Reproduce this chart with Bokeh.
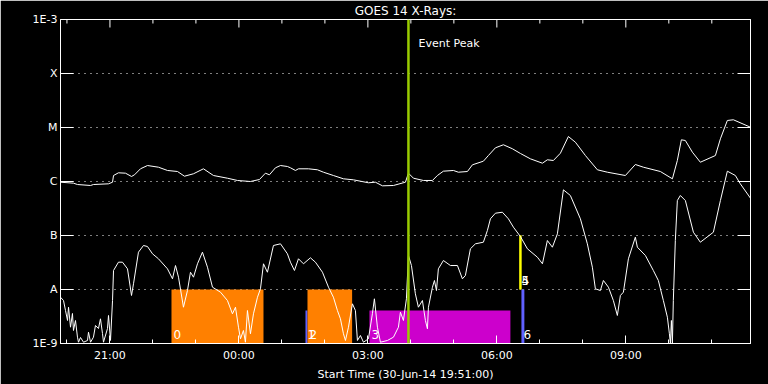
import numpy as np
from bokeh.plotting import figure
from bokeh.models import Range1d, FixedTicker, LinearAxis, Label, ColumnDataSource, Span
from bokeh.embed import file_html
from bokeh.resources import INLINE
from bokeh.core.properties import value

# minutes since start (30-Jun-14 19:51:00); flux as log10(W/m^2)
long_t = [0, 18.1, 23.7, 41.9, 46.0, 67.0, 72.6, 74.0, 80.9, 90.7,
          99.1, 103.3, 111.6, 121.4, 136.7, 149.3, 163.3, 173.0, 185.6, 199.5,
          213.5, 233.0, 247.0, 265.1, 277.7, 286.0, 291.6, 300.0, 307.0, 316.7,
          320.9, 327.9, 332.1, 346.0, 358.6, 367.0, 380.9, 394.9, 408.8, 429.8,
          439.5, 449.3, 464.7, 481.4, 485.6, 492.6, 506.5, 519.1, 526.0, 534.4,
          548.4, 555.3, 567.9, 574.9, 590.2, 597.2, 607.0, 618.1, 630.7, 641.9,
          655.8, 672.6, 679.5, 687.9, 697.7, 708.8, 718.6, 732.6, 749.3, 763.3,
          788.4, 802.3, 813.5, 837.2, 854.0, 860.9, 866.5, 872.1, 881.9, 893.0,
          914.0, 921.0, 930.7, 939.1, 962.8]
long_log = [-6.013, -6.031, -6.056, -6.074, -6.056, -6.043, -6.013, -5.889, -5.839, -5.846,
            -5.907, -5.876, -5.765, -5.704, -5.735, -5.796, -5.815, -5.902, -5.857, -5.765,
            -5.889, -5.939, -5.981, -6.0, -5.963, -5.846, -5.876, -5.746, -5.704, -5.722,
            -5.746, -5.796, -5.765, -5.765, -5.783, -5.828, -5.889, -5.950, -5.969, -6.024,
            -6.013, -6.080, -6.074, -6.013, -5.846, -5.939, -5.981, -5.981, -5.889, -5.809,
            -5.796, -5.828, -5.815, -5.691, -5.624, -5.519, -5.376, -5.320, -5.394, -5.481,
            -5.580, -5.661, -5.598, -5.611, -5.476, -5.167, -5.272, -5.519, -5.783, -5.828,
            -5.889, -5.685, -5.735, -5.815, -5.950, -5.611, -5.228, -5.241, -5.457, -5.643,
            -5.519, -5.209, -4.870, -4.857, -4.994]

short_t = [0, 4.2, 7.0, 9.8, 11.2, 14.0, 16.7, 18.1, 20.9, 23.7,
           25.1, 27.9, 32.1, 37.7, 39.1, 41.9, 46.0, 48.8, 53.0, 55.8,
           58.6, 60.0, 65.6, 67.0, 69.8, 72.6, 74.0, 80.9, 86.5, 93.5,
           99.1, 101.9, 108.8, 115.8, 121.4, 128.4, 136.7, 149.3, 156.3, 160.5,
           164.7, 171.6, 177.2, 181.4, 185.6, 191.2, 198.1, 205.1, 212.1, 223.3,
           233.0, 240.0, 244.2, 248.4, 251.2, 255.3, 258.1, 260.9, 265.1, 269.3,
           274.9, 279.1, 283.3, 288.8, 297.2, 307.0, 316.7, 320.9, 326.5, 332.1,
           339.1, 348.8, 355.8, 365.6, 374.0, 380.9, 386.5, 390.7, 394.9, 397.7,
           401.9, 407.4, 411.6, 414.4, 418.6, 422.8, 429.8, 435.3, 438.1, 442.3,
           446.5, 456.3, 464.7, 471.6, 474.4, 478.6, 482.8, 485.6, 489.8, 495.3,
           499.5, 505.1, 509.3, 512.1, 513.5, 519.1, 521.9, 524.7, 527.4, 534.4,
           544.2, 554.0, 560.9, 565.1, 572.1, 579.1, 590.2, 595.8, 600.0, 607.0,
           616.7, 625.1, 632.1, 641.9, 651.6, 665.6, 672.6, 679.5, 686.5, 693.5,
           701.9, 711.6, 725.6, 735.3, 742.3, 746.5, 753.5, 757.7, 764.7, 771.6,
           777.2, 781.4, 785.6, 792.6, 802.3, 805.1, 816.3, 827.4, 834.4, 841.4,
           847.0, 849.8, 851.2, 852.6, 854.0, 855.3, 858.1, 860.9, 865.1, 872.1,
           883.3, 893.0, 911.2, 921.0, 930.7, 941.9, 948.8, 962.8]
short_log = [-8.143, -8.204, -8.389, -8.574, -8.328, -8.698, -8.444, -8.759, -8.574, -8.883,
             -8.976, -8.889, -8.976, -8.944, -8.791, -8.976, -8.883, -8.667, -8.722, -8.543,
             -8.815, -8.976, -8.722, -8.481, -8.944, -8.204, -7.648, -7.494, -7.494, -7.617,
             -8.111, -7.894, -7.309, -7.185, -7.204, -7.339, -7.431, -7.617, -7.802, -7.556,
             -7.772, -8.328, -8.019, -7.680, -7.772, -7.524, -7.309, -7.587, -7.957, -8.050,
             -8.204, -8.450, -8.328, -8.698, -8.913, -8.759, -8.976, -8.389, -8.820, -8.450,
             -8.143, -7.987, -7.524, -7.680, -7.185, -7.154, -7.339, -7.494, -7.648, -7.431,
             -7.524, -7.413, -7.494, -7.680, -7.957, -8.143, -8.389, -8.543, -8.820, -8.944,
             -8.698, -8.265, -8.389, -8.944, -8.852, -8.976, -8.913, -8.450, -8.172, -8.698,
             -8.976, -8.944, -8.883, -8.698, -8.420, -8.574, -8.172, -7.370, -7.556, -8.080,
             -8.328, -8.204, -8.574, -8.728, -8.328, -7.957, -7.833, -8.019, -7.617, -7.463,
             -7.556, -7.556, -7.802, -7.741, -7.246, -7.154, -7.124, -6.907, -6.691, -6.587,
             -6.569, -6.691, -6.846, -7.019, -7.246, -7.402, -7.524, -7.093, -7.217, -6.969,
             -6.154, -6.259, -6.691, -7.154, -7.587, -7.987, -8.019, -7.833, -7.957, -8.204,
             -8.481, -8.111, -8.050, -7.431, -7.031, -7.217, -7.370, -7.648, -7.833, -8.204,
             -8.513, -8.820, -9.0, -8.574, -9.0, -8.204, -7.093, -6.352, -6.259, -6.352,
             -6.939, -7.124, -6.939, -6.352, -5.809, -5.889, -6.043, -6.306]

assert len(long_t) == len(long_log)
assert len(short_t) == len(short_log)

y_ticks = [-9, -8, -7, -6, -5, -4, -3]
y_tick_labels = ["1E-9", "A", "B", "C", "M", "X", "1E-3"]
x_major = [69, 249, 429, 609, 789]
x_major_labels = ["21:00", "00:00", "03:00", "06:00", "09:00"]
x_minor = [9, 69, 129, 189, 249, 309, 369, 429, 489, 549, 609, 669, 729, 789, 849, 909]

bar_ids = ["0", "1", "2", "3", "4", "5", "6"]
bar_start = [154.9, 341.9, 344.7, 431.2, 640.5, 640.5, 643.3]
bar_end = [283.3, 344.7, 407.0, 627.9, 643.3, 643.3, 647.4]
bar_bottom = [-9, -9, -9, -9, -8, -8, -9]
bar_top = [-8, -8.39, -8, -8.39, -7, -7, -8]
bar_color = ["#ff8000", "#6060ff", "#ff8000", "#cc00cc", "#ffff00", "#ffff00", "#6060ff"]
event_peak = 485.6

FONT = "DejaVu Sans"

p = figure(width=768, height=384, x_range=Range1d(0, 963), y_range=Range1d(-9, -3),
           output_backend="svg", toolbar_location=None,
           background_fill_color="black", border_fill_color="black",
           outline_line_color="white", outline_line_width=1,
           min_border_left=60, min_border_right=18, min_border_top=19, min_border_bottom=41)

p.title.text = "GOES 14 X-Rays:"
p.title.align = "center"
p.title.text_color = "white"
p.title.text_font = FONT
p.title.text_font_size = "12px"
p.title.text_font_style = "normal"
p.title.standoff = 3
p.title.offset = 0

p.xgrid.visible = False
p.ygrid.ticker = FixedTicker(ticks=y_ticks)
p.ygrid.grid_line_color = "white"
p.ygrid.grid_line_dash = "1 5"
p.ygrid.grid_line_width = 1

ax = p.xaxis[0]
ax.ticker = FixedTicker(ticks=x_major, minor_ticks=x_minor)
ax.axis_line_color = "white"
ax.major_tick_line_color = "white"
ax.minor_tick_line_color = "white"
ax.major_tick_in = 8
ax.major_tick_out = 0
ax.minor_tick_in = 4
ax.minor_tick_out = 0
ax.major_label_overrides = {t: l for t, l in zip(x_major, x_major_labels)}
ax.major_label_text_color = "white"
ax.major_label_text_font = FONT
ax.major_label_text_font_size = "11px"
ax.major_label_standoff = 5
ax.axis_label = "Start Time (30-Jun-14 19:51:00)"
ax.axis_label_text_color = "white"
ax.axis_label_text_font = FONT
ax.axis_label_text_font_style = "normal"
ax.axis_label_text_font_size = "11px"
ax.axis_label_standoff = 3

ay = p.yaxis[0]
ay.ticker = FixedTicker(ticks=y_ticks, minor_ticks=[])
ay.axis_line_color = "white"
ay.major_tick_line_color = "white"
ay.minor_tick_line_color = None
ay.major_tick_in = 13
ay.major_tick_out = 0
ay.major_label_overrides = {t: l for t, l in zip(y_ticks, y_tick_labels)}
ay.major_label_text_color = "white"
ay.major_label_text_font = FONT
ay.major_label_text_font_size = "11px"
ay.major_label_standoff = 3

right_ax = LinearAxis()
right_ax.ticker = FixedTicker(ticks=y_ticks, minor_ticks=[])
right_ax.axis_line_color = "white"
right_ax.major_tick_line_color = "white"
right_ax.minor_tick_line_color = None
right_ax.major_tick_in = 13
right_ax.major_tick_out = 0
right_ax.major_label_overrides = {t: "" for t in y_ticks}
right_ax.major_label_standoff = 0
p.add_layout(right_ax, "right")

# top-edge inward ticks, drawn from the same tick lists
px_per_decade = 54.0
top_minor = [t for t in x_minor if t not in x_major]
p.segment(x0=top_minor, y0=[-3] * len(top_minor), x1=top_minor,
          y1=[-3 - 4 / px_per_decade] * len(top_minor), line_color="white", line_width=1)
p.segment(x0=x_major, y0=[-3] * len(x_major), x1=x_major,
          y1=[-3 - 8 / px_per_decade] * len(x_major), line_color="white", line_width=1)

bars = ColumnDataSource(dict(left=bar_start, right=bar_end, bottom=bar_bottom,
                             top=bar_top, color=bar_color, label=bar_ids))
p.quad(left="left", right="right", bottom="bottom", top="top", fill_color="color",
       line_color=None, source=bars)

p.line(long_t, long_log, line_color="white", line_width=1)
p.line(short_t, short_log, line_color="white", line_width=1)

p.add_layout(Span(location=event_peak, dimension="height", line_color="#99cc00", line_width=2.5))

p.text(x="left", y="bottom", text="label", source=bars, x_offset=2, y_offset=-5,
       text_baseline="bottom", text_align="left", text_color="white",
       text_font=value(FONT), text_font_size="12px")

p.add_layout(Label(x=event_peak, y=-3, x_offset=10, y_offset=-24, text="Event Peak",
                   text_color="white", text_font=FONT, text_font_size="11px",
                   text_baseline="middle", text_align="left"))
p.add_layout(Label(x=0, y=-7.444, x_offset=-58, text="Sit & Stare",
                   text_color="#ffff00", text_font=FONT, text_font_size="10px",
                   text_baseline="middle", text_align="left"))
p.add_layout(Label(x=0, y=-7.667, x_offset=-47, text="mode",
                   text_color="#ffff00", text_font=FONT, text_font_size="10px",
                   text_baseline="middle", text_align="left"))
p.add_layout(Label(x=0, y=-8.648, x_offset=-58, text="Scan mode",
                   text_color="#ffff00", text_font=FONT, text_font_size="10px",
                   text_baseline="middle", text_align="left"))

open("out.html", "w").write(file_html(p, INLINE))
